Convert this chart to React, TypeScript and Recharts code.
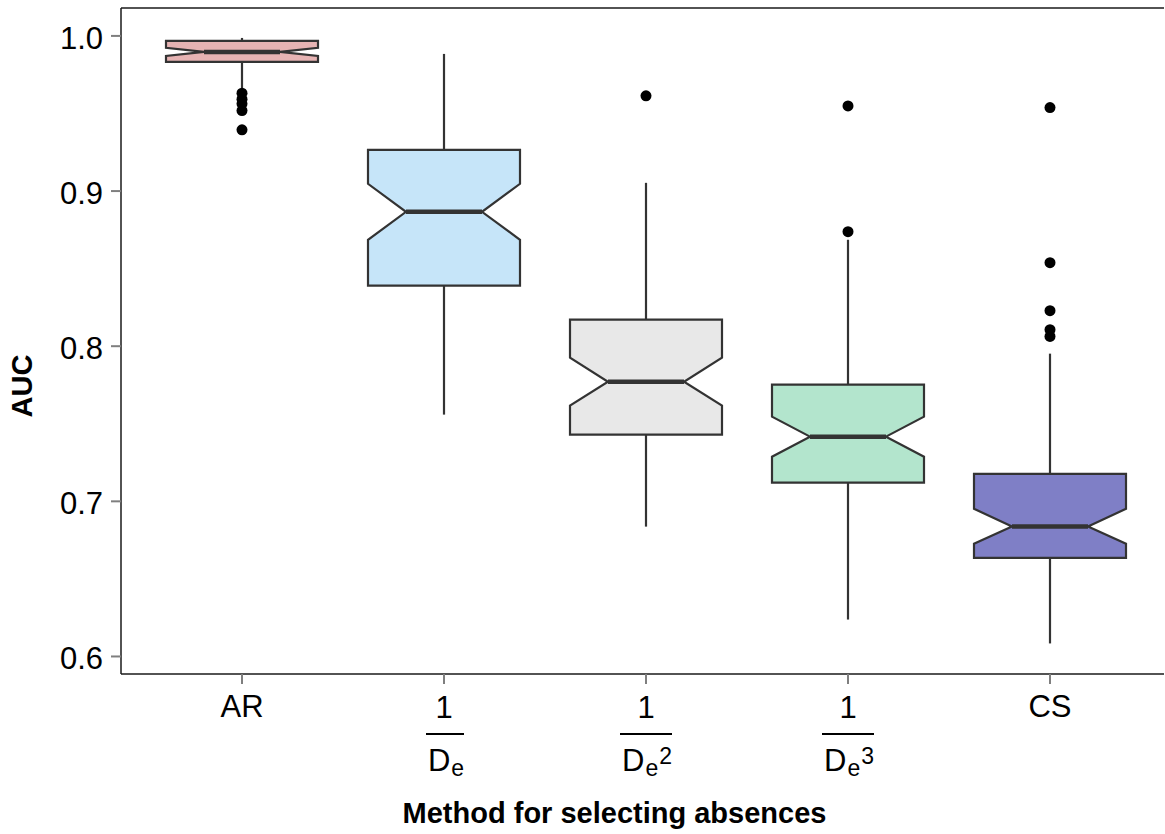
import React from 'react'
import { ComposedChart, Bar, XAxis, YAxis, Label } from 'recharts'

// Box statistics (AUC per method)
const methods = ['AR', '1/De', '1/De2', '1/De3', 'CS']
const whiskerLow = [0.9663, 0.7559, 0.6837, 0.6238, 0.6084]
const lowerHinge = [0.9833, 0.839, 0.743, 0.7121, 0.6635]
const notchLow = [0.9871, 0.8686, 0.7617, 0.7288, 0.6727]
const medians = [0.9897, 0.8866, 0.7771, 0.7417, 0.6838]
const notchHigh = [0.9923, 0.9047, 0.7926, 0.7546, 0.6952]
const upperHinge = [0.9968, 0.9266, 0.8171, 0.7752, 0.7177]
const whiskerHigh = [0.9987, 0.9884, 0.9053, 0.8686, 0.7952]
const outliers = [
  [0.9631, 0.9592, 0.9562, 0.9519, 0.9395],
  [],
  [0.9614],
  [0.9549, 0.8738],
  [0.9538, 0.8538, 0.8229, 0.8106, 0.8063],
]
const fills = ['#E6B3B3', '#C6E5F9', '#E8E8E8', '#B3E5CD', '#7F7FC6']
const yTicks = [0.6, 0.7, 0.8, 0.9, 1.0]

const data = methods.map((name, i) => ({
  name,
  lo: whiskerLow[i],
  q1: lowerHinge[i],
  nl: notchLow[i],
  med: medians[i],
  nu: notchHigh[i],
  q3: upperHinge[i],
  hi: whiskerHigh[i],
  out: outliers[i],
  fill: fills[i],
}))

const FONT = '"Liberation Sans", Arial, sans-serif'
const EDGE = '#333333'

const NotchedBox = (props: any) => {
  const { x, y, width, height, payload } = props
  const { lo, hi, q1, q3, med, nl, nu, out, fill } = payload
  // map a value to pixels using the bar's own (whisker range) geometry
  const k = height / (hi - lo)
  const Y = (v: number) => y + (hi - v) * k
  const cx = x + width / 2
  const inL = x + width * 0.25
  const inR = x + width * 0.75
  const pts = [
    [x, Y(q3)], [x, Y(nu)], [inL, Y(med)], [x, Y(nl)], [x, Y(q1)],
    [x + width, Y(q1)], [x + width, Y(nl)], [inR, Y(med)], [x + width, Y(nu)], [x + width, Y(q3)],
  ].map(p => p.join(',')).join(' ')
  return (
    <g>
      <line x1={cx} x2={cx} y1={Y(hi)} y2={Y(q3)} stroke={EDGE} strokeWidth={2.2} />
      <line x1={cx} x2={cx} y1={Y(q1)} y2={Y(lo)} stroke={EDGE} strokeWidth={2.2} />
      <polygon points={pts} fill={fill} stroke={EDGE} strokeWidth={2.2} strokeLinejoin="miter" />
      <line x1={inL} x2={inR} y1={Y(med)} y2={Y(med)} stroke={EDGE} strokeWidth={4.5} />
      {out.map((v: number, j: number) => (
        <circle key={j} cx={cx} cy={Y(v)} r={5.5} fill="#000" />
      ))}
    </g>
  )
}

const MethodTick = (props: any) => {
  const { x, y, payload } = props
  const v = payload.value as string
  const textStyle = { fontFamily: FONT, fill: '#000' }
  if (v === 'AR' || v === 'CS') {
    return (
      <text x={x} y={y + 33} textAnchor="middle" fontSize={31} style={textStyle}>{v}</text>
    )
  }
  const power = v.endsWith('2') ? '2' : v.endsWith('3') ? '3' : ''
  const half = power ? 26 : 19
  const dx = power ? 0 : 1
  return (
    <g>
      <text x={x} y={y + 34} textAnchor="middle" fontSize={31} style={textStyle}>1</text>
      <line x1={x + dx - half} x2={x + dx + half} y1={y + 50} y2={y + 50} stroke="#000" strokeWidth={2} />
      <text x={x + dx + 1} y={y + 87} textAnchor="middle" fontSize={31} style={textStyle}>
        D
        <tspan fontSize={23} dy={5} dx={1}>e</tspan>
        {power && <tspan fontSize={23} dy={-12} dx={1}>{power}</tspan>}
      </text>
    </g>
  )
}

const XTitle = (props: any) => {
  const vb = props.viewBox
  return (
    <text x={vb.x + vb.width / 2 - 28} y={vb.y + 149} textAnchor="middle" fontSize={29}
      fontWeight="bold" style={{ fontFamily: FONT }} fill="#000">
      Method for selecting absences
    </text>
  )
}

const YTitle = (props: any) => {
  const vb = props.viewBox
  const tx = vb.x + 32
  const ty = vb.y + 378
  return (
    <text x={tx} y={ty} transform={`rotate(-90, ${tx}, ${ty})`} textAnchor="middle" fontSize={29}
      fontWeight="bold" style={{ fontFamily: FONT }} fill="#000">
      AUC
    </text>
  )
}

export default function App() {
  return (
    <div style={{ position: 'absolute', left: 0, top: 0, width: 1165, height: 834, background: '#fff' }}>
      <ComposedChart width={1165} height={834} data={data} margin={{ top: 0, right: 1, bottom: 0, left: 0 }}>
        <XAxis
          dataKey="name"
          type="category"
          height={160}
          padding={{ left: 20, right: 13 }}
          axisLine={{ stroke: '#1a1a1a', strokeWidth: 1.5 }}
          tickLine={{ stroke: '#7f7f7f', strokeWidth: 2 }}
          tickSize={10}
          tickMargin={0}
          interval={0}
          tick={<MethodTick />}
        >
          <Label content={<XTitle />} />
        </XAxis>
        <XAxis xAxisId="top" dataKey="name" orientation="top" height={8} tick={false} tickLine={false}
          axisLine={{ stroke: '#1a1a1a', strokeWidth: 1.5 }} />
        <YAxis
          type="number"
          width={121}
          domain={[0.5887, 1.018]}
          allowDataOverflow
          ticks={yTicks}
          tickFormatter={(v: number) => v.toFixed(1)}
          axisLine={{ stroke: '#1a1a1a', strokeWidth: 1.5 }}
          tickLine={{ stroke: '#7f7f7f', strokeWidth: 2 }}
          tickSize={10}
          tickMargin={8}
          tick={{ fontSize: 31, fill: '#000', fontFamily: FONT, dy: 2 }}
        >
          <Label content={<YTitle />} />
        </YAxis>
        <YAxis yAxisId="right" type="number" domain={[0, 1]} orientation="right" width={0} tick={false} tickLine={false}
          axisLine={{ stroke: '#1a1a1a', strokeWidth: 1.5 }} />
        <Bar
          dataKey={(d: any) => [d.lo, d.hi]}
          barSize={152}
          shape={<NotchedBox />}
          isAnimationActive={false}
        />
      </ComposedChart>
    </div>
  )
}
